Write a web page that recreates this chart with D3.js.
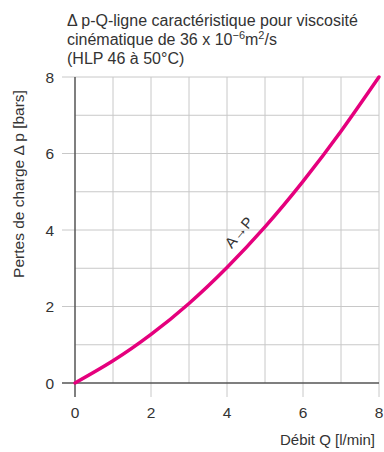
<!DOCTYPE html>
<html>
<head>
<meta charset="utf-8">
<script src="https://cdn.jsdelivr.net/npm/d3@7"></script>
<style>
  body { margin: 0; background: #fff; }
  text { font-family: 'Liberation Sans', Arial, sans-serif; fill: #333; }
</style>
</head>
<body>
<div id="chart"></div>
<script>
const flow = [0, 1, 2, 3, 4, 5, 6, 7, 8]
const pressure = [0, 0.58, 1.27, 2.08, 3.02, 4.08, 5.27, 6.58, 8.0]
const xTicks = [0, 2, 4, 6, 8]
const yTicks = [0, 2, 4, 6, 8]
const gridVals = [1, 2, 3, 4, 5, 6, 7, 8]

const W = 384
const H = 452
const plotLeft = 75
const plotRight = 379
const plotTop = 77
const plotBottom = 383

const x = d3.scaleLinear().domain([0, 8]).range([plotLeft, plotRight])
const y = d3.scaleLinear().domain([0, 8]).range([plotBottom, plotTop])

const svg = d3.select('#chart').append('svg').attr('width', W).attr('height', H)

// grid
svg.append('g')
  .selectAll('line')
  .data(gridVals)
  .join('line')
  .attr('x1', (d) => x(d)).attr('x2', (d) => x(d))
  .attr('y1', plotTop).attr('y2', plotBottom)
  .attr('stroke', '#c8c8c8').attr('stroke-width', 1)

svg.append('g')
  .selectAll('line')
  .data(gridVals)
  .join('line')
  .attr('x1', plotLeft).attr('x2', plotRight)
  .attr('y1', (d) => y(d)).attr('y2', (d) => y(d))
  .attr('stroke', '#c8c8c8').attr('stroke-width', 1)

// tick stubs
svg.append('g')
  .selectAll('line')
  .data(yTicks)
  .join('line')
  .attr('x1', plotLeft - 13).attr('x2', plotLeft)
  .attr('y1', (d) => y(d)).attr('y2', (d) => y(d))
  .attr('stroke', (d) => (d === 0 ? '#555' : '#c8c8c8')).attr('stroke-width', (d) => (d === 0 ? 1.5 : 1))

svg.append('g')
  .selectAll('line')
  .data(xTicks)
  .join('line')
  .attr('x1', (d) => x(d)).attr('x2', (d) => x(d))
  .attr('y1', plotBottom).attr('y2', plotBottom + 14)
  .attr('stroke', (d) => (d === 0 ? '#555' : '#c8c8c8')).attr('stroke-width', (d) => (d === 0 ? 1.5 : 1))

// axes
svg.append('line')
  .attr('x1', plotLeft).attr('x2', plotRight)
  .attr('y1', plotBottom).attr('y2', plotBottom)
  .attr('stroke', '#555').attr('stroke-width', 1.5)
svg.append('line')
  .attr('x1', plotLeft).attr('x2', plotLeft)
  .attr('y1', plotTop).attr('y2', plotBottom)
  .attr('stroke', '#555').attr('stroke-width', 1.5)

// tick labels
svg.append('g')
  .selectAll('text')
  .data(yTicks)
  .join('text')
  .attr('x', 54).attr('y', (d) => y(d) + 5.5)
  .attr('text-anchor', 'end').attr('font-size', 15.5)
  .text((d) => d)

svg.append('g')
  .selectAll('text')
  .data(xTicks)
  .join('text')
  .attr('x', (d) => x(d)).attr('y', 418)
  .attr('text-anchor', 'middle').attr('font-size', 15.5)
  .text((d) => d)

// curve
const line = d3.line()
  .x((d, i) => x(flow[i]))
  .y((d) => y(d))
  .curve(d3.curveNatural)

svg.append('path')
  .datum(pressure)
  .attr('d', line)
  .attr('fill', 'none')
  .attr('stroke', '#e5007d')
  .attr('stroke-width', 3.5)
  .attr('stroke-linecap', 'round')

// curve label
svg.append('text')
  .attr('transform', `translate(${x(4.42)}, ${y(3.85)}) rotate(-50)`)
  .attr('text-anchor', 'middle').attr('font-size', 15)
  .text('A→P')

// axis titles
svg.append('text')
  .attr('transform', 'translate(24, 184) rotate(-90)')
  .attr('text-anchor', 'middle').attr('font-size', 15.5)
  .text('Pertes de charge Δ p [bars]')

svg.append('text')
  .attr('x', 375).attr('y', 445)
  .attr('text-anchor', 'end').attr('font-size', 15)
  .text('Débit Q [l/min]')

// title
const title = svg.append('text').attr('x', 67).attr('font-size', 16)
title.append('tspan').attr('x', 67).attr('y', 26).text('Δ p-Q-ligne caractéristique pour viscosité')
const l2 = title.append('tspan').attr('x', 67).attr('y', 45)
l2.append('tspan').text('cinématique de 36 x 10')
l2.append('tspan').attr('dy', -6).attr('font-size', 11).text('−6')
l2.append('tspan').attr('dy', 6).text('m')
l2.append('tspan').attr('dy', -6).attr('font-size', 11).text('2')
l2.append('tspan').attr('dy', 6).text('/s')
title.append('tspan').attr('x', 67).attr('y', 64).text('(HLP 46 à 50°C)')
</script>
</body>
</html>
